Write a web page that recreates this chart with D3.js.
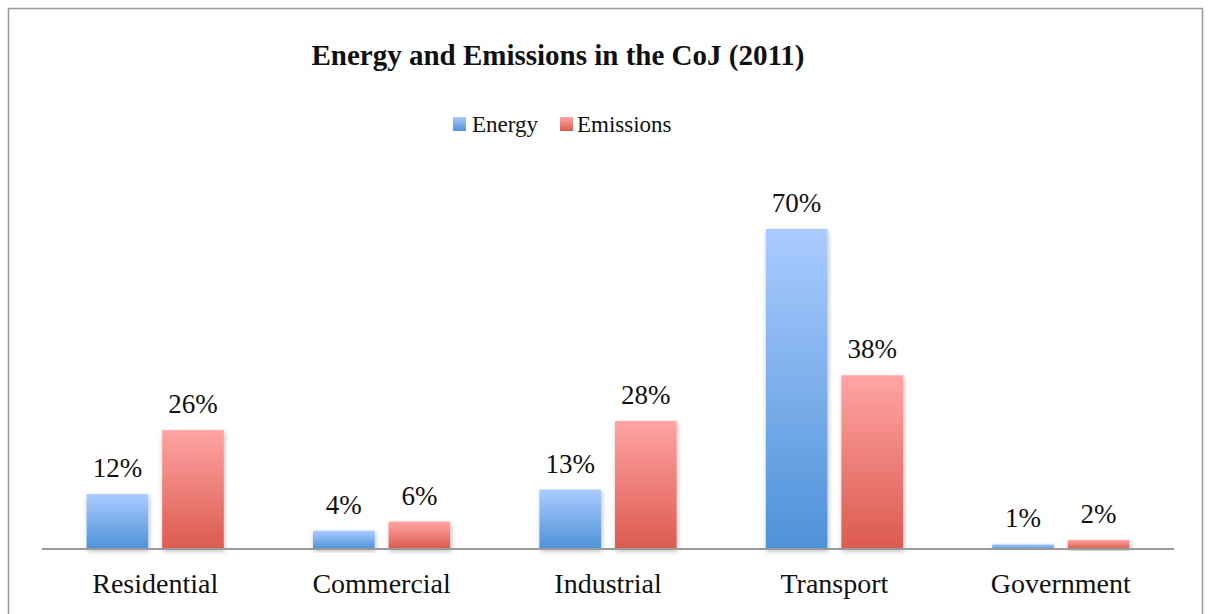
<!DOCTYPE html>
<html>
<head>
<meta charset="utf-8">
<script src="https://cdn.jsdelivr.net/npm/d3@7"></script>
<style>
  html, body { margin: 0; padding: 0; background: #fff; }
  svg { display: block; }
  text { font-family: "Liberation Serif", "Times New Roman", serif; fill: #111; }
</style>
</head>
<body>
<svg id="chart" width="1208" height="614"></svg>
<script>
// Sector shares of energy use and emissions, City of Johannesburg, 2011
const categories = ["Residential", "Commercial", "Industrial", "Transport", "Government"];
const seriesNames = ["Energy", "Emissions"];
const energy = [12, 4, 13, 70, 1];
const emissions = [26, 6, 28, 38, 2];

const width = 1208, height = 614;
const svg = d3.select("#chart");

const defs = svg.append("defs");
const gradStops = {
  Energy: ["#aacbff", "#4e92d8"],
  Emissions: ["#ffa4a3", "#dc5a4f"]
};
seriesNames.forEach(name => {
  const g = defs.append("linearGradient")
    .attr("id", "grad-" + name)
    .attr("x1", 0).attr("y1", 0).attr("x2", 0).attr("y2", 1);
  g.append("stop").attr("offset", "0%").attr("stop-color", gradStops[name][0]);
  g.append("stop").attr("offset", "100%").attr("stop-color", gradStops[name][1]);
});
const shadow = defs.append("filter").attr("id", "barShadow")
  .attr("x", "-20%").attr("y", "-20%").attr("width", "140%").attr("height", "140%");
shadow.append("feDropShadow")
  .attr("dx", 1).attr("dy", 2).attr("stdDeviation", 2.5)
  .attr("flood-color", "#000").attr("flood-opacity", 0.28);

// Chart frame
svg.append("rect")
  .attr("x", 8.5).attr("y", 8.5)
  .attr("width", 1194).attr("height", 620)
  .attr("fill", "#fff").attr("stroke", "#999").attr("stroke-width", 1.5);

// Title
svg.append("text")
  .attr("x", 558).attr("y", 65)
  .attr("text-anchor", "middle")
  .style("font-size", "29px").style("font-weight", "bold")
  .text("Energy and Emissions in the CoJ (2011)");

// Plot scales
const plot = { left: 42, right: 1174, base: 549 };
const x0 = d3.scaleBand().domain(categories).range([plot.left, plot.right]).paddingInner(0.394).paddingOuter(0.197);
const x1 = d3.scaleBand().domain(seriesNames).range([0, x0.bandwidth()]).paddingInner(0.185);
const y = d3.scaleLinear().domain([0, 70]).range([plot.base, 229]);

const rows = categories.map((c, i) => ({ category: c, values: [
  { series: "Energy", value: energy[i] },
  { series: "Emissions", value: emissions[i] }
]}));

const groups = svg.append("g").selectAll("g")
  .data(rows).join("g")
  .attr("transform", d => `translate(${x0(d.category)},0)`);

groups.selectAll("rect")
  .data(d => d.values).join("rect")
  .attr("x", d => x1(d.series))
  .attr("y", d => y(d.value))
  .attr("width", x1.bandwidth())
  .attr("height", d => plot.base - y(d.value))
  .attr("fill", d => `url(#grad-${d.series})`)
  .attr("filter", "url(#barShadow)");

groups.selectAll("text.value")
  .data(d => d.values).join("text")
  .attr("class", "value")
  .attr("x", d => x1(d.series) + x1.bandwidth() / 2)
  .attr("y", d => y(d.value) - 17)
  .attr("text-anchor", "middle")
  .style("font-size", "27px")
  .text(d => d.value + "%");

// Category axis
const xAxis = svg.append("g")
  .attr("transform", `translate(0,${plot.base})`)
  .call(d3.axisBottom(x0).tickSize(0).tickPadding(24).tickSizeOuter(0));
xAxis.select(".domain").attr("stroke", "#9a9a9a").attr("stroke-width", 2)
  .attr("d", `M${plot.left},0H${plot.right}`);
xAxis.selectAll(".tick text")
  .attr("dy", "0.71em")
  .style("font-size", "28px")
  .style("font-family", "'Liberation Serif', 'Times New Roman', serif")
  .attr("fill", "#111");

// Legend
const legendItems = [
  { name: "Energy", sx: 453, tx: 472 },
  { name: "Emissions", sx: 560, tx: 577 }
];
const legend = svg.append("g");
legend.selectAll("rect").data(legendItems).join("rect")
  .attr("x", d => d.sx).attr("y", 117)
  .attr("width", 13).attr("height", 14)
  .attr("fill", d => `url(#grad-${d.name})`);
legend.selectAll("text").data(legendItems).join("text")
  .attr("x", d => d.tx).attr("y", 132)
  .style("font-size", "23px")
  .text(d => d.name);
</script>
</body>
</html>
